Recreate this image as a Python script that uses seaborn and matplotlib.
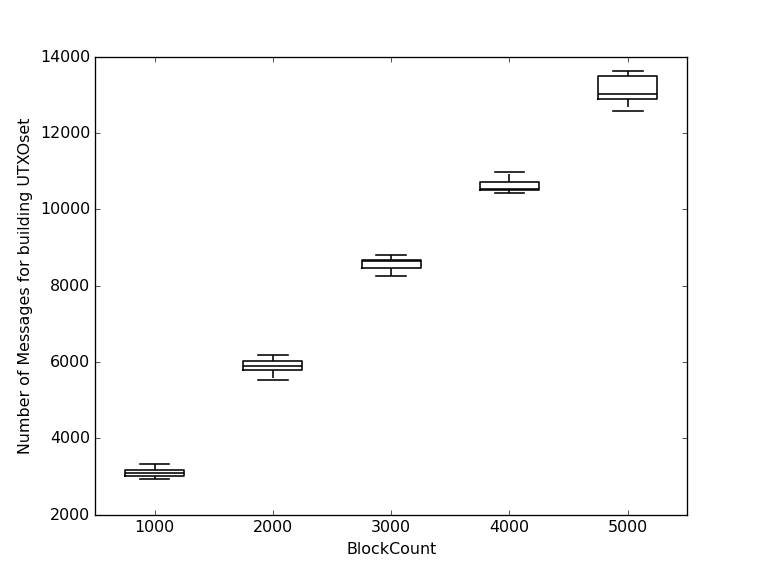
import numpy as np
import pandas as pd
import seaborn as sns
import matplotlib
matplotlib.use("Agg")
import matplotlib.pyplot as plt

# block counts on the x axis
block_counts = ["1000", "2000", "3000", "4000", "5000"]

# five runs per block count (min, q1, median, q3, max)
msgs_1000 = [2937, 3024, 3085, 3163, 3321]
msgs_2000 = [5519, 5789, 5894, 6036, 6175]
msgs_3000 = [8257, 8460, 8643, 8688, 8809]
msgs_4000 = [10421, 10500, 10534, 10718, 10980]
msgs_5000 = [12582, 12889, 13021, 13493, 13632]

all_msgs = [msgs_1000, msgs_2000, msgs_3000, msgs_4000, msgs_5000]

df = pd.DataFrame({
    "BlockCount": np.repeat(block_counts, [len(m) for m in all_msgs]),
    "Messages": np.concatenate(all_msgs),
})

plt.style.use("classic")
fig, ax = plt.subplots(figsize=(8, 6), dpi=95.4)
fig.patch.set_facecolor("white")

sns.boxplot(data=df, x="BlockCount", y="Messages", order=block_counts,
            fill=False, color="black", width=0.5, linewidth=1.2,
            whis=1.5, showfliers=False, ax=ax)

ax.set_xlim(-0.5, 4.5)
ax.set_ylim(2000, 14000)
ax.set_xlabel("BlockCount")
ax.set_ylabel("Number of Messages for building UTXOset")

fig.savefig("out.png", dpi=95.4, facecolor="white")
